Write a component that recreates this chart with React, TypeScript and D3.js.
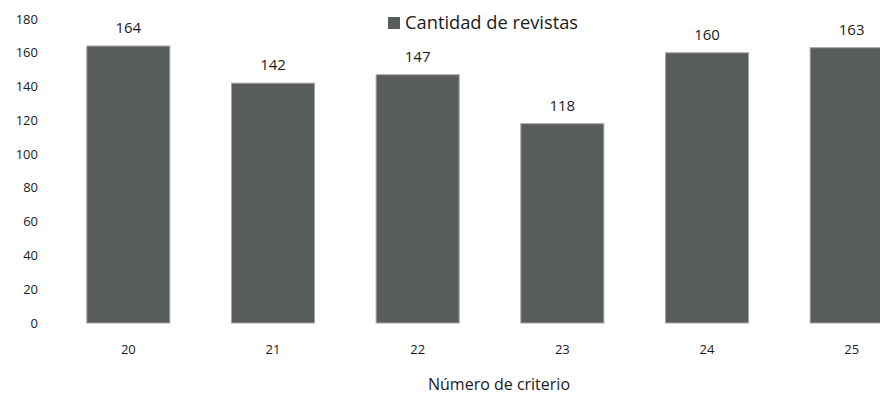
import React from "react";
import * as d3 from "d3";

const criteria = ["20", "21", "22", "23", "24", "25"];
const magazineCounts = [164, 142, 147, 118, 160, 163];
const yTicks = [0, 20, 40, 60, 80, 100, 120, 140, 160, 180];
const seriesName = "Cantidad de revistas";
const xAxisTitle = "Número de criterio";

const W = 880;
const H = 396;
const FONT = "'Open Sans', Lato, sans-serif";
const BAR_FILL = "#595c5c";
const BAR_STROKE = "#a3a5a5";
const TEXT = "#1a1a1a";

export default function App() {
  const x = d3
    .scaleBand<string>()
    .domain(criteria)
    .range([56, 924])
    .paddingInner(0.426)
    .paddingOuter(0.213);
  const y = d3.scaleLinear().domain([0, 180]).range([323, 19]);

  return (
    <svg
      width={W}
      height={H}
      viewBox={`0 0 ${W} ${H}`}
      style={{ position: "absolute", left: 0, top: 0, background: "#fff" }}
    >
      <rect x={0} y={0} width={W} height={H} fill="#fff" />
      {/* y tick labels */}
      {yTicks.map((t) => (
        <text
          key={t}
          x={38}
          y={y(t)}
          dy="0.35em"
          textAnchor="end"
          fontFamily={FONT}
          fontSize={13}
          fill={TEXT}
        >
          {t}
        </text>
      ))}
      {/* bars */}
      {criteria.map((c, i) => (
        <g key={c}>
          <rect
            x={x(c)}
            y={y(magazineCounts[i])}
            width={x.bandwidth()}
            height={y(0) - y(magazineCounts[i])}
            fill={BAR_FILL}
            stroke={BAR_STROKE}
            strokeWidth={1}
          />
          <text
            x={(x(c) as number) + x.bandwidth() / 2}
            y={y(magazineCounts[i]) - 13}
            textAnchor="middle"
            fontFamily={FONT}
            fontSize={15}
            fill={TEXT}
          >
            {magazineCounts[i]}
          </text>
          <text
            x={(x(c) as number) + x.bandwidth() / 2}
            y={349}
            dy="0.35em"
            textAnchor="middle"
            fontFamily={FONT}
            fontSize={13}
            fill={TEXT}
          >
            {c}
          </text>
        </g>
      ))}
      {/* legend */}
      <rect x={388} y={17} width={12} height={12} fill={BAR_FILL} />
      <text
        x={405}
        y={22.5}
        dy="0.35em"
        fontFamily={FONT}
        fontSize={18.3}
        fill={TEXT}
      >
        {seriesName}
      </text>
      {/* x axis title */}
      <text
        x={499}
        y={384}
        dy="0.35em"
        textAnchor="middle"
        fontFamily={FONT}
        fontSize={16}
        fill={TEXT}
      >
        {xAxisTitle}
      </text>
    </svg>
  );
}
